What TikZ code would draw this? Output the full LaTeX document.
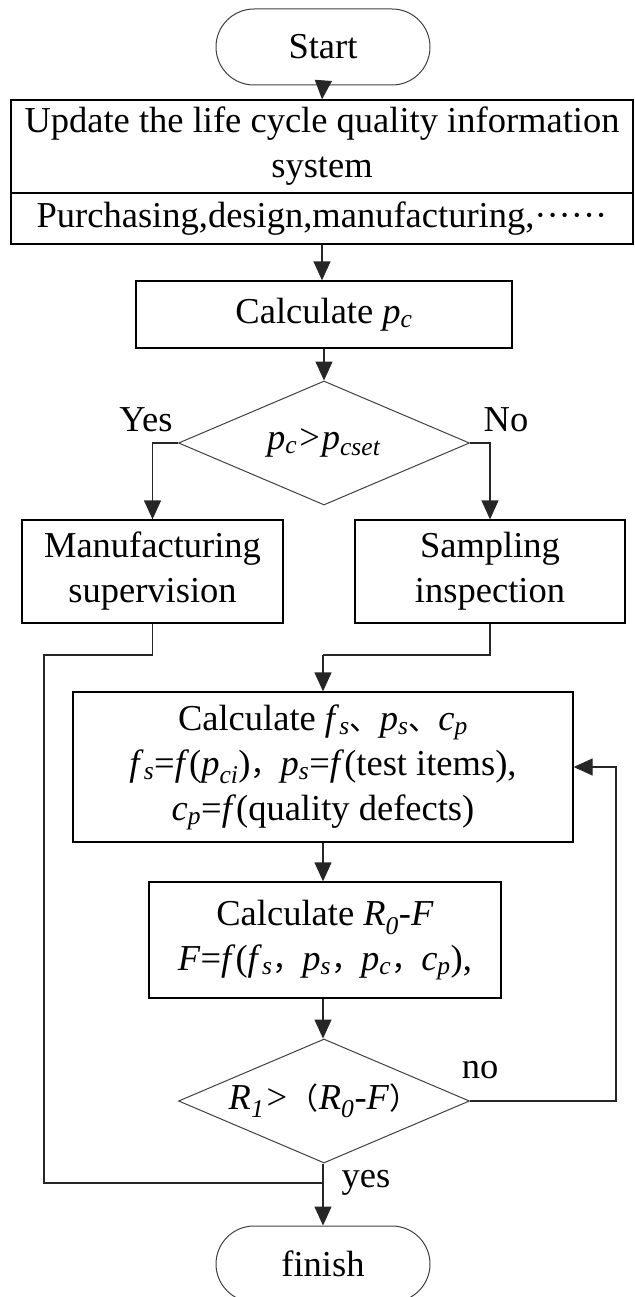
\documentclass[tikz,border=0pt]{standalone}
\usepackage{fontspec}
\setmainfont{Liberation Serif}
\newfontfamily\cjk{Noto Sans CJK SC}
\usetikzlibrary{arrows.meta,shapes.geometric}

% italic variable with italic subscript
\newcommand{\vsub}[2]{\textit{#1}\textsubscript{\textit{#2}}}
\newcommand{\cjkc}[1]{{\cjk\fontsize{30}{45}\selectfont #1}}

\tikzset{
  basefont/.style={font=\fontsize{36.5}{45}\selectfont},
  procbox/.style={draw=black, line width=1.3pt, rectangle, inner sep=0pt, align=center, basefont},
  termbox/.style={draw=black!75, line width=1pt, rectangle, rounded corners=38pt, inner sep=0pt, align=center, basefont},
  decbox/.style={draw=black!75, line width=1pt, diamond, inner sep=0pt, basefont, aspect=2.35},
  flow/.style={line width=1.3pt, draw=black!85},
  flowarrow/.style={flow, -{Triangle[length=19pt,width=17pt]}},
  lbl/.style={basefont, inner sep=0pt}
}

\begin{document}
\begin{tikzpicture}[x=1pt,y=-1pt]
\useasboundingbox (0,0) rectangle (634,1297);

% terminals
\node[termbox, minimum width=214pt, minimum height=76pt] (start) at (323,47) {Start};
\node[termbox, minimum width=214pt, minimum height=76pt] (finish) at (323,1264) {finish};

% information system block
\node[procbox, minimum width=622pt, minimum height=93pt] (upd) at (322,146.5)
  {Update the life cycle quality information\\system};
\node[procbox, minimum width=622pt, minimum height=51pt] (pur) at (322,218.5)
  {Purchasing,design,manufacturing,\textperiodcentered\textperiodcentered\textperiodcentered\textperiodcentered\textperiodcentered\textperiodcentered};

% processing steps
\node[procbox, minimum width=376pt, minimum height=67pt] (calc1) at (324,314.5)
  {Calculate \vsub{p}{c}};
\node[decbox, minimum width=291pt, minimum height=124pt] (dec1) at (324,443)
  {\vsub{p}{c}\textit{>}\vsub{p}{cset}};

\node[procbox, minimum width=261pt, minimum height=103pt] (mfg) at (152.5,571.5)
  {Manufacturing\\supervision};
\node[procbox, minimum width=270pt, minimum height=103pt] (smp) at (490,571.5)
  {Sampling\\inspection};

\node[procbox, minimum width=500pt, minimum height=150pt] (calc2) at (323,767)
  {Calculate \vsub{f}{s}\cjkc{、}\vsub{p}{s}\cjkc{、}\vsub{c}{p}\\
   \vsub{f}{s}=\textit{f}(\vsub{p}{ci})\cjkc{，}\vsub{p}{s}=\textit{f}(test items),\\
   \vsub{c}{p}=\textit{f}(quality defects)};

\node[procbox, minimum width=352pt, minimum height=116pt] (calc3) at (325,940)
  {Calculate \vsub{R}{0}-\textit{F}\\
   \textit{F}=\textit{f}(\vsub{f}{s}\cjkc{，}\vsub{p}{s}\cjkc{，}\vsub{p}{c}\cjkc{，}\vsub{c}{p}),};

\node[decbox, minimum width=291pt, minimum height=124pt] (dec2) at (324,1101)
  {\vsub{R}{1}\textit{>}\cjkc{（}\vsub{R}{0}-\textit{F}\cjkc{）}};

% branch labels
\node[lbl] (lyes1) at (146,420) {Yes};
\node[lbl] (lno1) at (506,420) {No};
\node[lbl] (lno2) at (480,1070) {no};
\node[lbl] (lyes2) at (366,1183) {yes};

% routing points
\coordinate (mfgturn) at (152.5,655);
\coordinate (leftrail) at (44,655);
\coordinate (leftdown) at (44,1183);
\coordinate (join) at (323,1183);
\coordinate (smpturn) at (490,655);
\coordinate (smpjoin) at (323,655);
\coordinate (loopdown) at (616,1101);
\coordinate (loopup) at (616,767);

% main flow
\draw[flowarrow] (start.south) -- (upd.north);
\draw[flowarrow] (pur.south) -- (pur.south |- calc1.north);
\draw[flowarrow] (calc1.south) -- (calc1.south |- dec1.north);
\draw[flowarrow] (dec1.west) -| (mfg.north);
\draw[flowarrow] (dec1.east) -| (smp.north);

% inspection branch
\draw[flow] (smp.south) -- (smpturn) -- (smpjoin);
\draw[flowarrow] (smpjoin) -- (smpjoin |- calc2.north);
\draw[flowarrow] (calc2.south -| smpjoin) -- (calc3.north -| smpjoin);
\draw[flowarrow] (calc3.south -| smpjoin) -- (dec2.north -| smpjoin);

% feedback loop
\draw[flowarrow] (dec2.east) -- (loopdown) -- (loopup) -- (calc2.east);

% supervision branch joining the exit
\draw[flow] (mfg.south) -- (mfgturn) -- (leftrail) -- (leftdown) -- (join);
\draw[flowarrow] (dec2.south -| join) -- (finish.north -| join);
\end{tikzpicture}
\end{document}
